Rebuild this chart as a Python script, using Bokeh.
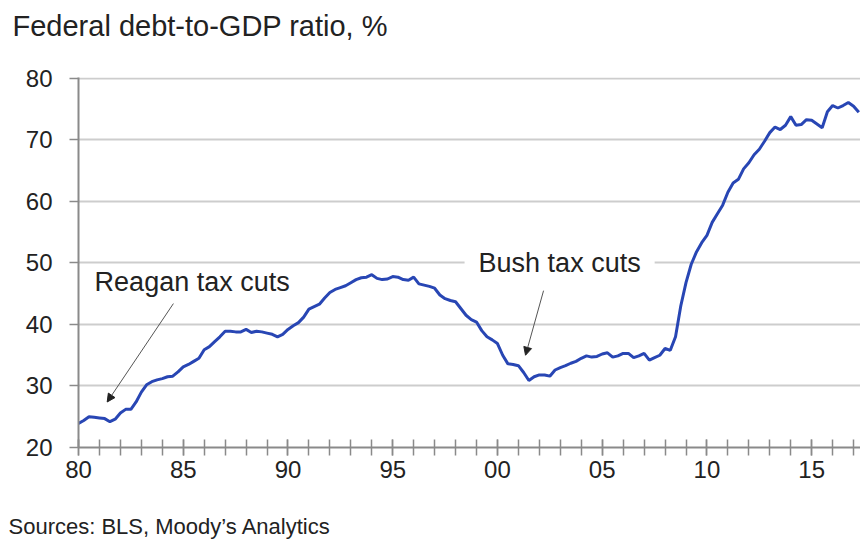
import numpy as np
from bokeh.plotting import figure
from bokeh.models import FixedTicker, Label, Arrow, NormalHead, ColumnDataSource, Range1d, Title
from bokeh.embed import file_html
from bokeh.resources import INLINE

# ---------------- data ----------------
start_year = 1980
periods_per_year = 4  # quarterly
debt_ratio = [
    23.9, 24.4, 25.0, 24.9,   # 1980
    24.8, 24.7, 24.2, 24.6,   # 1981
    25.6, 26.2, 26.2, 27.4,   # 1982
    29.0, 30.2, 30.7, 31.0,   # 1983
    31.2, 31.5, 31.6, 32.3,   # 1984
    33.1, 33.5, 34.0, 34.5,   # 1985
    35.9, 36.4, 37.2, 38.0,   # 1986
    38.9, 38.9, 38.8, 38.8,   # 1987
    39.2, 38.7, 38.9, 38.8,   # 1988
    38.6, 38.4, 38.0, 38.4,   # 1989
    39.2, 39.8, 40.3, 41.2,   # 1990
    42.5, 42.9, 43.3, 44.3,   # 1991
    45.2, 45.7, 46.0, 46.3,   # 1992
    46.8, 47.3, 47.6, 47.7,   # 1993
    48.1, 47.5, 47.3, 47.4,   # 1994
    47.8, 47.7, 47.3, 47.2,   # 1995
    47.7, 46.6, 46.4, 46.2,   # 1996
    45.9, 44.8, 44.2, 43.9,   # 1997
    43.7, 42.6, 41.5, 40.8,   # 1998
    40.4, 39.0, 38.0, 37.5,   # 1999
    36.9, 35.0, 33.6, 33.5,   # 2000
    33.3, 32.2, 30.9, 31.5,   # 2001
    31.8, 31.8, 31.6, 32.6,   # 2002
    33.0, 33.3, 33.7, 34.0,   # 2003
    34.5, 34.9, 34.7, 34.8,   # 2004
    35.2, 35.4, 34.7, 34.9,   # 2005
    35.3, 35.3, 34.6, 34.9,   # 2006
    35.3, 34.2, 34.6, 35.0,   # 2007
    36.1, 35.8, 38.0, 43.0,   # 2008
    46.8, 49.8, 51.8, 53.3,   # 2009
    54.5, 56.6, 58.0, 59.4,   # 2010
    61.5, 63.0, 63.6, 65.3,   # 2011
    66.3, 67.6, 68.5, 69.8,   # 2012
    71.2, 72.1, 71.7, 72.4,   # 2013
    73.8, 72.4, 72.5, 73.3,   # 2014
    73.2, 72.6, 72.0, 74.6,   # 2015
    75.6, 75.2, 75.6, 76.1,   # 2016
    75.5, 74.5,               # 2017
]
x_tick_years = [1980, 1985, 1990, 1995, 2000, 2005, 2010, 2015]
x_tick_labels = ["80", "85", "90", "95", "00", "05", "10", "15"]
x_minor_years = list(range(1980, 2018))
y_ticks = [20, 30, 40, 50, 60, 70, 80]
title_text = "Federal debt-to-GDP ratio, %"
source_text = "Sources: BLS, Moody\u2019s Analytics"
reagan_text = "Reagan tax cuts"
bush_text = "Bush tax cuts"

periods = start_year + np.arange(len(debt_ratio)) / periods_per_year
src = ColumnDataSource(dict(x=periods, y=debt_ratio))

FONT = "Liberation Sans"
TEXT_COLOR = "#222222"
AXIS_COLOR = "#8a8a8a"
GRID_COLOR = "#cdcdcd"
LINE_COLOR = "#2846b4"

p = figure(
    width=860, height=539,
    x_range=Range1d(1980, 2017.33), y_range=Range1d(20, 80.16),
    output_backend="svg", toolbar_location=None,
    min_border_left=78, min_border_right=0, min_border_top=77, min_border_bottom=92,
)
p.outline_line_color = None
p.background_fill_color = "white"
p.border_fill_color = "white"

# spacer between frame and title (keeps the title near the top of the canvas)
p.add_layout(Title(text=" ", text_font_size="1px", standoff=33), "above")
p.title = Title(text=title_text, align="left", offset=-66, text_font=FONT,
                text_font_size="29px", text_color=TEXT_COLOR, text_font_style="normal",
                standoff=0)

p.line("x", "y", source=src, line_color=LINE_COLOR, line_width=3)

# x axis
xa = p.xaxis[0]
xa.ticker = FixedTicker(ticks=x_tick_years, minor_ticks=x_minor_years)
xa.major_label_overrides = {yr: lab for yr, lab in zip(x_tick_years, x_tick_labels)}
xa.axis_line_color = AXIS_COLOR
xa.axis_line_width = 2
xa.major_tick_line_color = AXIS_COLOR
xa.minor_tick_line_color = AXIS_COLOR
xa.major_tick_line_width = 1.5
xa.minor_tick_line_width = 1.5
xa.major_tick_in = 8
xa.major_tick_out = 8
xa.minor_tick_in = 8
xa.minor_tick_out = 8
xa.major_label_text_font = FONT
xa.major_label_text_font_size = "24px"
xa.major_label_text_color = TEXT_COLOR
xa.major_label_standoff = 5

# y axis
ya = p.yaxis[0]
ya.ticker = FixedTicker(ticks=y_ticks, minor_ticks=[])
ya.axis_line_color = AXIS_COLOR
ya.axis_line_width = 2
ya.major_tick_line_color = AXIS_COLOR
ya.major_tick_line_width = 1.5
ya.major_tick_in = 0
ya.major_tick_out = 9
ya.major_label_text_font = FONT
ya.major_label_text_font_size = "24px"
ya.major_label_text_color = TEXT_COLOR
ya.major_label_standoff = 17

p.xgrid.visible = False
p.ygrid.ticker = FixedTicker(ticks=y_ticks, minor_ticks=[])
p.ygrid.grid_line_color = GRID_COLOR
p.ygrid.grid_line_width = 2

# annotations
for xs, ys, xe, ye in [(1984.53, 43.4, 1981.37, 27.4), (2002.2, 45.5, 2001.34, 35.0)]:
    p.add_layout(Arrow(
        x_start=xs, y_start=ys, x_end=xe, y_end=ye,
        line_color="#555555", line_width=1,
        end=NormalHead(size=8, fill_color="#222222", line_color="#222222", line_width=1),
    ))

p.add_layout(Label(x=1980.1, y=46.9, text=reagan_text, text_font=FONT, text_font_size="27px",
                   text_color=TEXT_COLOR, text_baseline="middle", text_align="left",
                   background_fill_color="white", padding=dict(x=14, y=2)))
p.add_layout(Label(x=1998.43, y=50.0, text=bush_text, text_font=FONT, text_font_size="27px",
                   text_color=TEXT_COLOR, text_baseline="middle", text_align="left",
                   background_fill_color="white", padding=dict(x=14, y=2)))

# spacer under the axis, then the source note
p.add_layout(Title(text=" ", text_font_size="1px", standoff=28), "below")
p.add_layout(Title(text=source_text, align="left", offset=-70, text_font=FONT,
                   text_font_size="22px", text_color=TEXT_COLOR, text_font_style="normal",
                   standoff=0), "below")

open("out.html", "w").write(file_html(p, INLINE))
